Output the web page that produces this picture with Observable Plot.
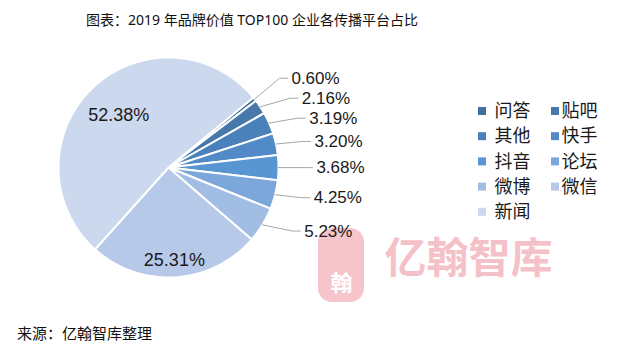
<!DOCTYPE html>
<html><head><meta charset="utf-8">
<script src="https://cdn.jsdelivr.net/npm/d3@7"></script>
<script src="https://cdn.jsdelivr.net/npm/@observablehq/plot@0.6"></script>
<style>
body{margin:0;background:#fff;font-family:"Noto Sans","Noto Sans CJK SC",sans-serif;}
#wrap{position:relative;width:629px;height:353px;overflow:hidden;background:#fff}
#title{position:absolute;top:10px;left:252px;transform:translateX(-50%);font-size:14px;white-space:nowrap;color:#111;line-height:20px}
#chart{position:absolute;top:40px;left:0}
#source{position:absolute;top:323px;left:17px;font-size:15px;line-height:20px;color:#111;white-space:nowrap}
</style></head><body>
<div id="wrap">
  <div id="title">图表：2019 年品牌价值 TOP100 企业各传播平台占比</div>
  <div id="chart"></div>
  <div id="source">来源：亿翰智库整理</div>
</div>
<script>
// ---- data ----
const categories = ["问答", "贴吧", "其他", "快手", "抖音", "论坛", "微博", "微信", "新闻"];
const shares = [0.60, 2.16, 3.19, 3.20, 3.68, 4.25, 5.23, 25.31, 52.38];
const colors = ["#41709e", "#4777ab", "#4b81ba", "#518ac6", "#5896d1", "#7ca7da", "#a1bde3", "#b6c9e8", "#ccd8ee"];
const watermarkText = "亿翰智库";

// ---- layout constants ----
const W = 629, H = 275;
const cx = 168, cy = 127, R = 110;
const startDeg = 50.5;
const total = d3.sum(shares);
const rad = Math.PI / 180;
const polar = (a, r) => ({x: cx + r * Math.sin(a), y: cy - r * Math.cos(a)});
const numFont = '"Liberation Sans","Noto Sans",sans-serif';

let cum = 0;
const slices = categories.map((cat, i) => {
  const a0 = (startDeg + cum / total * 360) * rad;
  cum += shares[i];
  const a1 = (startDeg + cum / total * 360) * rad;
  return {cat, i, value: shares[i], a0, a1, mid: (a0 + a1) / 2};
});

// pie wedges as closed polygons
const wedgePts = [];
for (const s of slices) {
  const n = Math.max(2, Math.ceil((s.a1 - s.a0) / rad));
  wedgePts.push({cat: s.cat, ...polar(0, 0)});
  for (let k = 0; k <= n; k++) wedgePts.push({cat: s.cat, ...polar(s.a0 + (s.a1 - s.a0) * k / n, R)});
  wedgePts.push({cat: s.cat, ...polar(0, 0)});
}

// outside labels for small slices
const outside = slices.filter(s => s.value < 10);
outside.forEach(s => { s.dy = -122 * Math.cos(s.mid); });
for (let k = outside.length - 2; k >= 0; k--) {
  if (outside[k].dy > outside[k + 1].dy - 20) outside[k].dy = outside[k + 1].dy - 20;
}
outside.forEach(s => {
  s.lx = cx + Math.sqrt(172 * 172 - s.dy * s.dy);
  s.ly = cy + s.dy;
  s.label = s.value.toFixed(2) + "%";
});
const leaderPts = [];
for (const s of outside) {
  const p = polar(s.mid, R);
  const endX = s.lx - 28;
  leaderPts.push({cat: s.cat, x: p.x, y: p.y});
  leaderPts.push({cat: s.cat, x: endX - 8, y: s.ly});
  leaderPts.push({cat: s.cat, x: endX, y: s.ly});
}

// inside labels for big slices
const inside = slices.filter(s => s.value >= 10).map(s => {
  const p = polar(s.mid, s.value > 40 ? 72 : 93);
  return {...p, label: s.value.toFixed(2) + "%"};
});

// legend
const legend = categories.map((cat, i) => {
  const col = i % 2, row = Math.floor(i / 2);
  const sx = col === 0 ? 478 : 551;
  const y = 71 + row * 25.2;
  return {cat, sx, tx: sx + (col === 0 ? 16 : 10), y};
});

const xs = {domain: [0, W], range: [0, W]};
const ys = {domain: [0, H], range: [0, H]};

const chart = Plot.plot({
  width: W, height: H,
  margin: 0,
  x: {...xs, axis: null},
  y: {...ys, axis: null},
  color: {domain: categories, range: colors},
  style: {fontFamily: '"Noto Sans","Noto Sans CJK SC",sans-serif', background: "transparent", overflow: "visible"},
  marks: [
    // watermark
    Plot.rect([{x1: 318, x2: 364, y1: 188, y2: 262}], {x1: "x1", x2: "x2", y1: "y1", y2: "y2", fill: "#f3b6be", fillOpacity: 0.8, rx: 14}),
    Plot.text(["翰"], {x: 341, y: 243, text: d => d, fill: "white", fontSize: 22, fontWeight: "bold"}),
    Plot.text([watermarkText], {x: 384, y: 219, text: d => d, textAnchor: "start", fill: "#f3b6be", fillOpacity: 0.85, fontSize: 42, fontWeight: "bold", fontFamily: '"Noto Sans CJK SC",sans-serif'}),
    // pie
    Plot.line(wedgePts, {x: "x", y: "y", z: "cat", fill: "cat", stroke: "white", strokeWidth: 2, strokeLinejoin: "round"}),
    // leaders
    Plot.line(leaderPts, {x: "x", y: "y", z: "cat", stroke: "#a6a6a6", strokeWidth: 1}),
    Plot.text(outside, {x: "lx", y: "ly", text: "label", fontSize: 17, fill: "#1a1a1a", textAnchor: "middle", fontFamily: numFont}),
    Plot.text(inside, {x: "x", y: "y", text: "label", fontSize: 18, fill: "#1a1a1a", textAnchor: "middle", fontFamily: numFont}),
    // legend
    Plot.rect(legend, {x1: "sx", x2: d => d.sx + 8, y1: d => d.y - 4, y2: d => d.y + 4, fill: "cat"}),
    Plot.text(legend, {x: "tx", y: "y", text: "cat", textAnchor: "start", fontSize: 18, fill: "#1a1a1a"})
  ]
});
document.getElementById("chart").appendChild(chart);
</script>
</body></html>
